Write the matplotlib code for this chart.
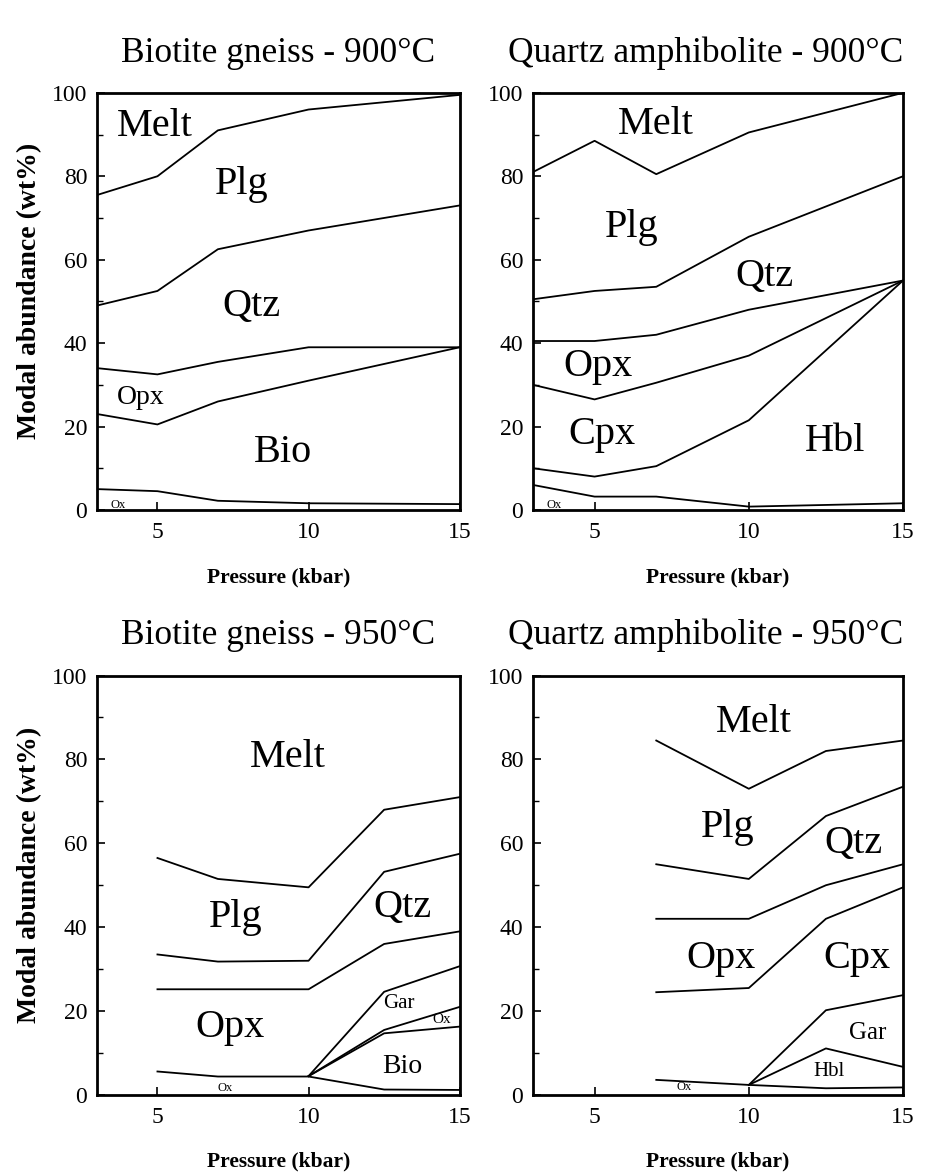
import matplotlib
matplotlib.use("Agg")
import matplotlib.pyplot as plt
from matplotlib.ticker import MultipleLocator

plt.rcParams['font.family'] = ['Liberation Serif', 'DejaVu Serif']

# Biotite gneiss - 900C (cumulative boundaries, wt%)
bg900_p = [3, 5, 7, 10, 15]
bg900_melt = [75.5, 80, 91, 96, 99.5]
bg900_plg = [49, 52.5, 62.5, 67, 73]
bg900_qtz = [34, 32.5, 35.5, 39, 39]
bg900_opx = [23, 20.5, 26, 31, 39]
bg900_bio = [5, 4.5, 2.2, 1.6, 1.4]

# Quartz amphibolite - 900C
qa900_p = [3, 5, 7, 10, 15]
qa900_melt = [81, 88.5, 80.5, 90.5, 100]
qa900_plg = [50.5, 52.5, 53.5, 65.5, 80]
qa900_qtz = [40.5, 40.5, 42, 48, 55]
qa900_opx = [30, 26.5, 30.5, 37, 55]
qa900_cpx = [10, 8, 10.5, 21.5, 55]
qa900_hbl = [6, 3.2, 3.2, 0.8, 1.6]

# Biotite gneiss - 950C
bg950_p = [5, 7, 10, 12.5, 15]
bg950_melt = [56.5, 51.5, 49.5, 68, 71]
bg950_plg = [33.5, 31.8, 32, 53.2, 57.5]
bg950_qtz = [25.2, 25.2, 25.2, 36, 39]
bg950_bio = [5.6, 4.4, 4.4, 1.3, 1.2]
bg950_hp = [10, 12.5, 15]
bg950_opx = [4.5, 24.6, 30.7]
bg950_gar = [4.5, 15.5, 21]
bg950_ox = [4.5, 14.7, 16.3]

# Quartz amphibolite - 950C
qa950_p = [7, 10, 12.5, 15]
qa950_melt = [84.5, 73, 82, 84.5]
qa950_plg = [55, 51.5, 66.5, 73.5]
qa950_qtz = [42, 42, 50, 55]
qa950_opx = [24.5, 25.5, 42, 49.5]
qa950_hbl = [3.6, 2.4, 1.6, 1.8]
qa950_hp = [10, 12.5, 15]
qa950_cpx = [2.4, 20.2, 23.8]
qa950_gar = [2.4, 11.1, 6.7]

titles = ["Biotite gneiss - 900\u00b0C", "Quartz amphibolite - 900\u00b0C",
          "Biotite gneiss - 950\u00b0C", "Quartz amphibolite - 950\u00b0C"]

# label text, x, y, fontsize
bg900_labels = [("Melt", 4.9, 92, 29), ("Plg", 7.8, 78, 29), ("Qtz", 8.1, 48.7, 29),
                ("Opx", 4.45, 27, 20), ("Bio", 9.15, 13.7, 29), ("Ox", 3.7, 1.3, 9)]
qa900_labels = [("Melt", 7.0, 92.3, 29), ("Plg", 6.2, 67.6, 29), ("Qtz", 10.5, 55.9, 29),
                ("Opx", 5.1, 34.3, 29), ("Cpx", 5.25, 18, 29), ("Hbl", 12.8, 16.3, 29),
                ("Ox", 3.7, 1.3, 9)]
bg950_labels = [("Melt", 9.3, 80.5, 29), ("Plg", 7.6, 42.4, 29), ("Qtz", 13.1, 44.8, 29),
                ("Opx", 7.4, 16, 29), ("Gar", 13.0, 21.9, 15), ("Ox", 14.4, 17.9, 11),
                ("Bio", 13.1, 6.7, 20), ("Ox", 7.25, 1.7, 9)]
qa950_labels = [("Melt", 10.16, 88.8, 29), ("Plg", 9.3, 63.8, 29), ("Qtz", 13.4, 60, 29),
                ("Opx", 9.1, 32.6, 29), ("Cpx", 13.5, 32.6, 29), ("Gar", 13.85, 14.8, 18),
                ("Hbl", 12.6, 5.5, 15), ("Ox", 7.9, 1.9, 9)]


def style_axes(ax, ylabel, xlabel_y):
    ax.set_xlim(3, 15)
    ax.set_ylim(0, 100)
    ax.set_xticks([5, 10, 15])
    ax.yaxis.set_major_locator(MultipleLocator(20))
    ax.yaxis.set_minor_locator(MultipleLocator(10))
    ax.tick_params(direction='in', length=6, width=1.2, labelsize=17, pad=7)
    ax.tick_params(axis='x', pad=9)
    ax.tick_params(which='minor', direction='in', length=4, width=1)
    for s in ax.spines.values():
        s.set_linewidth(2)
    ax.text(0.5, xlabel_y, "Pressure (kbar)", transform=ax.transAxes, ha='center',
            va='center', fontsize=15.5, fontweight='bold')
    if ylabel:
        ax.text(-0.185, 0.525, "Modal abundance (wt%)", transform=ax.transAxes,
                rotation=90, ha='center', va='center', fontsize=20, fontweight='bold')


def draw(ax, lines, labels, title, title_x):
    for xs, ys in lines:
        ax.plot(xs, ys, color='black', lw=1.3)
    for txt, x, y, fs in labels:
        ax.text(x, y, txt, ha='center', va='center', fontsize=fs)
    ax.text(title_x, 1.074, title, transform=ax.transAxes, ha='center',
            va='baseline', fontsize=25.5)


fig = plt.figure(figsize=(9.3, 11.75), dpi=100)
ax1 = fig.add_axes([0.1043, 0.566, 0.390, 0.355])
ax2 = fig.add_axes([0.573, 0.566, 0.398, 0.355])
ax3 = fig.add_axes([0.1043, 0.0681, 0.390, 0.357])
ax4 = fig.add_axes([0.573, 0.0681, 0.398, 0.357])

draw(ax1, [(bg900_p, bg900_melt), (bg900_p, bg900_plg), (bg900_p, bg900_qtz),
           (bg900_p, bg900_opx), (bg900_p, bg900_bio)],
     bg900_labels, titles[0], 0.5)
draw(ax2, [(qa900_p, qa900_melt), (qa900_p, qa900_plg), (qa900_p, qa900_qtz),
           (qa900_p, qa900_opx), (qa900_p, qa900_cpx), (qa900_p, qa900_hbl)],
     qa900_labels, titles[1], 0.468)
draw(ax3, [(bg950_p, bg950_melt), (bg950_p, bg950_plg), (bg950_p, bg950_qtz),
           (bg950_p, bg950_bio), (bg950_hp, bg950_opx), (bg950_hp, bg950_gar),
           (bg950_hp, bg950_ox)],
     bg950_labels, titles[2], 0.5)
draw(ax4, [(qa950_p, qa950_melt), (qa950_p, qa950_plg), (qa950_p, qa950_qtz),
           (qa950_p, qa950_opx), (qa950_p, qa950_hbl), (qa950_hp, qa950_cpx),
           (qa950_hp, qa950_gar)],
     qa950_labels, titles[3], 0.468)

style_axes(ax1, True, -0.163)
style_axes(ax2, False, -0.163)
style_axes(ax3, True, -0.158)
style_axes(ax4, False, -0.158)

fig.savefig("out.png", dpi=100)
